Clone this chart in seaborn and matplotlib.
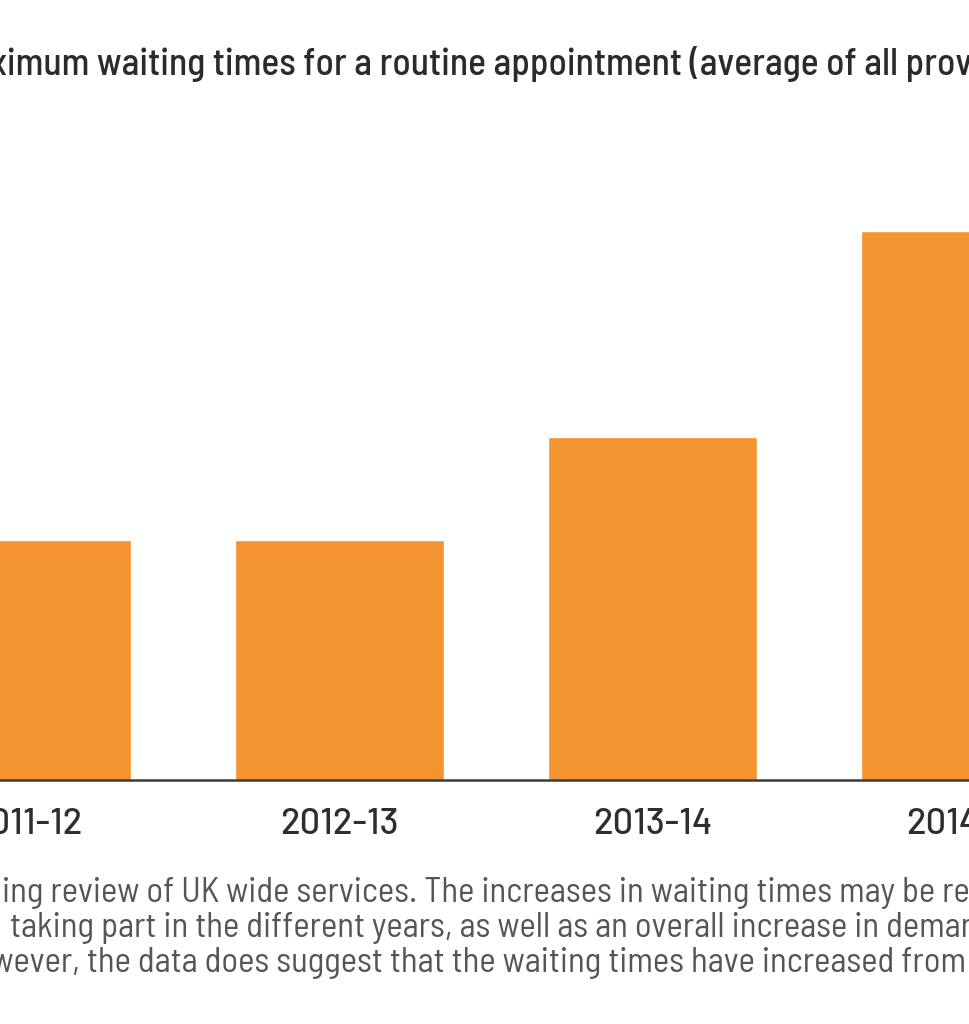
import matplotlib
matplotlib.use("Agg")
import matplotlib.pyplot as plt
import seaborn as sns
import pandas as pd

# data (bars in days)
years = ["2011-12", "2012-13", "2013-14", "2014-15"]
wait_days = [7, 7, 10, 16]

title = "Maximum waiting times for a routine appointment (average of all providers)"
note_lines = [
    "ing review of UK wide services. The increases in waiting times may be related to the",
    "taking part in the different years, as well as an overall increase in demand for",
    "However, the data does suggest that the waiting times have increased from",
]

sns.set_style("white")
FONT = ["Barlow Semi Condensed", "Roboto Condensed", "DejaVu Sans"]
TICK_FONT = ["Barlow", "Roboto", "DejaVu Sans"]
plt.rcParams["font.family"] = FONT

W, H = 970, 1024
fig = plt.figure(figsize=(W / 100, H / 100), dpi=100)

# axes wider than the figure so the picture is cropped like the reference
ax_left, ax_w = -130, 1252
ax_bottom, ax_h = H - 780, 686
ax = fig.add_axes([ax_left / W, ax_bottom / H, ax_w / W, ax_h / H])

df = pd.DataFrame({"year": years, "days": wait_days})
sns.barplot(data=df, x="year", y="days", color="#F49431", saturation=1,
            width=0.668, ax=ax)
ax.set_xlim(-0.5, 3.5)
ax.set_ylim(0, 20)
ax.set_xlabel("")
ax.set_ylabel("")
ax.set_yticks([])
sns.despine(ax=ax, left=True)
ax.spines["bottom"].set_color("#3a3a3a")
ax.spines["bottom"].set_linewidth(1.8)
ax.tick_params(axis="x", length=0, pad=20, labelsize=26, labelcolor="#2e2e2e")
for lab in ax.get_xticklabels():
    lab.set_fontweight(500)
    lab.set_family(TICK_FONT)

r = fig.canvas.get_renderer()


def prefix_width(s, **kw):
    t = fig.text(0, 0, s, **kw)
    w = t.get_window_extent(r).width
    t.remove()
    return w


title_kw = dict(fontsize=27, color="#2b2b2b", fontweight=500)
tx = 7 - prefix_width("Max", **title_kw)
fig.text(tx / W, 1 - 75 / H, title, va="baseline", ha="left", **title_kw)

note_kw = dict(fontsize=25, color="#555555")
fig.text(2 / W, 1 - 902 / H, note_lines[0], va="baseline", **note_kw)
fig.text(10 / W, 1 - 937 / H, note_lines[1], va="baseline", **note_kw)
hx = 13 - prefix_width("How", **note_kw)
fig.text(hx / W, 1 - 972 / H, note_lines[2], va="baseline", **note_kw)

fig.savefig("out.png", dpi=100)
